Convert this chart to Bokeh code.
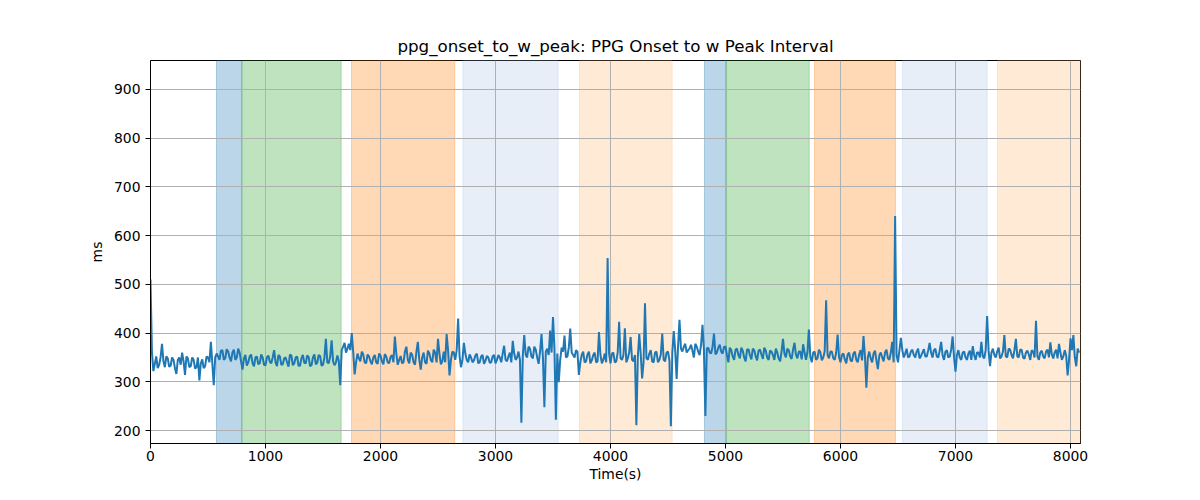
from bokeh.plotting import figure
from bokeh.models import BoxAnnotation, FixedTicker, Range1d
from bokeh.embed import file_html
from bokeh.resources import INLINE

STEP = 25
# samples at t = 0, 25, 50, ...
values = [
    510, 322, 352, 335, 378, 330, 348, 333, 345, 316, 350, 360, 314, 348, 332, 345, 330, 303, 346, 332,
    350, 382, 293, 358, 345, 365, 348, 362, 342, 366, 350, 360, 325, 355, 340, 356, 332, 352, 338, 350,
    334, 354, 338, 365, 332, 352, 336, 350, 331, 354, 338, 352, 333, 355, 338, 351, 334, 356, 339, 353,
    335, 388, 338, 385, 334, 354, 293, 372, 360, 378, 400, 315, 358, 342, 356, 338, 352, 336, 355, 337,
    354, 336, 352, 338, 355, 393, 335, 353, 340, 372, 338, 356, 335, 382, 325, 360, 337, 358, 340, 360,
    388, 336, 362, 398, 313, 362, 345, 430, 330, 380, 345, 356, 340, 354, 338, 352, 337, 353, 339, 352,
    338, 355, 340, 374, 342, 360, 384, 345, 362, 216, 396, 350, 368, 348, 366, 337, 398, 248, 368, 405,
    433, 222, 299, 370, 395, 352, 409, 355, 365, 314, 355, 340, 356, 338, 355, 340, 402, 338, 358, 554,
    338, 360, 342, 423, 345, 410, 348, 392, 342, 211, 398, 307, 461, 345, 365, 340, 362, 345, 399, 342,
    362, 209, 404, 306, 427, 362, 378, 365, 376, 350, 372, 355, 417, 230, 370, 358, 399, 360, 376, 358,
    372, 340, 365, 345, 368, 348, 364, 342, 367, 346, 365, 344, 366, 347, 364, 345, 362, 345, 360, 342,
    388, 350, 365, 347, 380, 348, 362, 377, 345, 407, 340, 362, 348, 360, 350, 467, 348, 362, 345, 397,
    340, 358, 338, 360, 342, 362, 340, 365, 394, 288, 362, 340, 364, 326, 360, 342, 366, 345, 382, 640,
    340, 390, 350, 368, 352, 366, 350, 368, 353, 367, 352, 380, 350, 368, 350, 382, 345, 365, 352, 393,
    321, 365, 345, 362, 345, 364, 373, 345, 360, 382, 348, 435, 332, 368, 350, 370, 352, 396, 350, 366,
    348, 388, 350, 366, 347, 364, 345, 362, 425, 345, 364, 348, 366, 381, 348, 366, 378, 345, 365, 313,
    389, 396, 332, 360,
]
# samples at t = 12.5, 37.5, 62.5, ...
mid_values = [
    360, 337, 328, 350, 342, 352, 331, 350, 328, 345, 335, 342, 352, 330, 350, 327, 350, 338, 328, 352,
    340, 338, 350, 352, 364, 345, 367, 350, 360, 345, 368, 342, 348, 333, 352, 338, 350, 336, 356, 335,
    350, 341, 350, 340, 355, 335, 348, 340, 356, 334, 350, 333, 348, 339, 354, 332, 350, 336, 355, 333,
    350, 340, 352, 342, 340, 342, 365, 380, 368, 365, 362, 340, 348, 362, 340, 356, 342, 350, 340, 358,
    342, 357, 340, 351, 340, 358, 345, 338, 362, 345, 360, 340, 362, 345, 350, 340, 364, 345, 366, 340,
    358, 342, 340, 365, 345, 360, 365, 352, 345, 358, 340, 350, 344, 358, 340, 355, 343, 350, 340, 355,
    345, 350, 358, 345, 352, 340, 358, 350, 345, 355, 355, 372, 352, 372, 350, 362, 350, 362, 355, 360,
    368, 358, 345, 362, 350, 370, 360, 350, 362, 340, 362, 342, 362, 344, 360, 342, 355, 345, 340, 358,
    358, 340, 360, 348, 355, 340, 360, 345, 355, 350, 358, 340, 348, 358, 342, 360, 340, 356, 345, 360,
    344, 360, 365, 372, 368, 372, 360, 368, 364, 378, 362, 376, 365, 368, 360, 372, 356, 370, 362, 372,
    355, 370, 352, 366, 355, 370, 350, 366, 354, 368, 352, 364, 356, 370, 350, 364, 355, 368, 348, 362,
    358, 368, 352, 366, 356, 362, 346, 360, 360, 352, 360, 345, 366, 344, 362, 355, 362, 348, 360, 350,
    355, 346, 356, 344, 358, 345, 356, 344, 352, 350, 348, 358, 344, 354, 350, 360, 348, 360, 340, 355,
    365, 365, 358, 350, 362, 355, 362, 348, 360, 352, 364, 360, 365, 352, 364, 355, 362, 350, 366, 350,
    355, 350, 360, 350, 358, 345, 355, 360, 350, 352, 365, 365, 360, 355, 362, 348, 362, 352, 368, 355,
    365, 352, 366, 350, 360, 356, 365, 350, 352, 360, 352, 362, 350, 356, 360, 348, 360, 352, 354, 345,
    365, 350, 368,
]

times, series = [], []
for i, v in enumerate(values):
    times.append(i * STEP)
    series.append(v)
    if i < len(mid_values):
        times.append(i * STEP + STEP / 2)
        series.append(mid_values[i])

span_starts = [574, 794, 1748, 2716, 3730, 4817, 5006, 5774, 6539, 7365]
span_ends = [794, 1658, 2646, 3545, 4536, 5006, 5728, 6478, 7275, 8090]
span_colors = ["#1f77b4", "#2ca02c", "#ff7f0e", "#aec7e8", "#ffbb78",
               "#1f77b4", "#2ca02c", "#ff7f0e", "#aec7e8", "#ffbb78"]

x_ticks = [0, 1000, 2000, 3000, 4000, 5000, 6000, 7000, 8000]
y_ticks = [200, 300, 400, 500, 600, 700, 800, 900]

FONT = "DejaVu Sans"

p = figure(width=1184, height=484, output_backend="svg", toolbar_location=None,
           x_range=Range1d(0, 8087), y_range=Range1d(173.5, 959),
           title="ppg_onset_to_w_peak: PPG Onset to w Peak Interval",
           x_axis_label="Time(s)", y_axis_label="ms",
           min_border_left=150, min_border_right=104, min_border_top=60, min_border_bottom=40)

for s, e, c in zip(span_starts, span_ends, span_colors):
    b = BoxAnnotation(left=s, right=e, fill_color=c, fill_alpha=0.3,
                      line_color=c, line_alpha=0.3, line_width=1, level="image")
    p.add_layout(b)

p.line(times, series, line_color="#1f77b4", line_width=2)

p.title.align = "center"
p.title.text_font = FONT
p.title.text_font_size = "16.7px"
p.title.text_font_style = "normal"
p.title.text_color = "black"

for ax in (p.xaxis[0], p.yaxis[0]):
    ax.axis_label_text_font = FONT
    ax.axis_label_text_font_size = "13.9px"
    ax.axis_label_text_font_style = "normal"
    ax.axis_label_text_color = "black"
    ax.major_label_text_font = FONT
    ax.major_label_text_font_size = "13.9px"
    ax.major_label_text_color = "black"
    ax.minor_tick_line_color = None
    ax.major_tick_in = 0
    ax.major_tick_out = 5
    ax.axis_line_color = "black"
    ax.major_tick_line_color = "black"

p.xaxis[0].ticker = FixedTicker(ticks=x_ticks)
p.yaxis[0].ticker = FixedTicker(ticks=y_ticks)
p.xaxis[0].major_label_standoff = 2
p.yaxis[0].major_label_standoff = 5
p.xaxis[0].axis_label_standoff = 2
p.yaxis[0].axis_label_standoff = 6

p.xgrid.grid_line_color = "#b0b0b0"
p.ygrid.grid_line_color = "#b0b0b0"
p.xgrid.grid_line_width = 1
p.ygrid.grid_line_width = 1
p.xgrid.ticker = FixedTicker(ticks=x_ticks)
p.ygrid.ticker = FixedTicker(ticks=y_ticks)

p.outline_line_color = "black"
p.outline_line_alpha = 1
p.outline_line_width = 1
p.background_fill_color = "white"
p.border_fill_color = "white"

open("out.html", "w").write(file_html(p, INLINE))
